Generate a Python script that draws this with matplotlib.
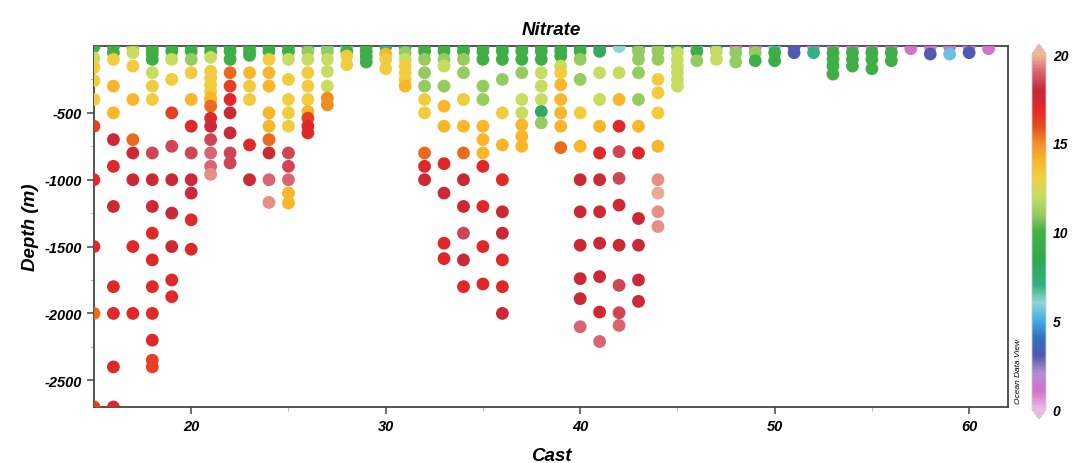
import numpy as np
import matplotlib
matplotlib.use("Agg")
import matplotlib.pyplot as plt
from matplotlib.colors import LinearSegmentedColormap, Normalize

plt.rcParams['font.family'] = ['Liberation Sans', 'DejaVu Sans']
plt.rcParams['axes.unicode_minus'] = False

# colour levels (nitrate)
G, LG, YG, Y, YO, O, DO, OR = 9.6, 11.0, 12.0, 13.2, 14.0, 15.0, 15.5, 16.2
R, C, PC, P, S, PE = 17.0, 17.8, 18.5, 19.0, 19.5, 19.8
T, LB, B, I, PK = 7.0, 5.5, 4.0, 3.0, 1.0

# (cast, depth, nitrate) per cast
cast_no = []
depth_m = []
nitrate = []

casts = {
    15: [(5, G), (90, YG), (160, Y), (260, Y), (400, Y), (600, OR), (1000, R), (1500, R), (2000, DO), (2700, OR)],
    16: [(5, G), (50, G), (100, Y), (300, YO), (500, YO), (700, C), (900, R), (1200, C), (1800, R), (2000, R), (2400, R), (2700, R)],
    17: [(5, LG), (50, YG), (150, Y), (400, YO), (700, DO), (800, C), (1000, C), (1500, R), (2000, R)],
    18: [(5, G), (30, G), (60, G), (100, G), (200, YG), (300, Y), (400, Y), (800, PC), (1000, C), (1200, C), (1400, R), (1600, R), (1800, R), (2000, R), (2200, R), (2350, OR), (2400, OR)],
    19: [(5, G), (40, G), (100, YG), (250, Y), (500, OR), (750, PC), (1000, C), (1250, C), (1500, C), (1750, R), (1875, R)],
    20: [(5, G), (40, G), (100, LG), (200, Y), (400, YO), (600, R), (800, PC), (1000, C), (1100, C), (1300, R), (1520, R)],
    21: [(5, G), (45, G), (85, YG), (190, Y), (240, Y), (290, Y), (340, Y), (390, YO), (410, YO), (450, DO), (540, R), (600, C), (700, PC), (800, P), (900, P), (960, S)],
    22: [(5, T), (40, G), (100, G), (200, DO), (300, OR), (400, R), (500, C), (650, C), (800, PC), (875, PC)],
    23: [(5, G), (40, G), (70, G), (200, YO), (300, Y), (400, Y), (740, R), (1000, C)],
    24: [(5, T), (40, G), (100, Y), (200, YO), (300, YO), (500, YO), (600, YO), (700, DO), (800, C), (1000, P), (1170, S)],
    25: [(5, T), (40, G), (100, YG), (250, Y), (400, Y), (500, Y), (600, Y), (800, PC), (900, PC), (1000, P), (1100, YO), (1175, YO)],
    26: [(5, T), (40, LG), (100, YG), (200, Y), (300, Y), (400, Y), (490, YO), (540, OR), (600, R), (650, R)],
    27: [(5, LB), (40, LG), (100, YG), (190, YG), (300, YG), (390, O), (440, O)],
    28: [(5, LB), (40, G), (75, Y), (140, Y)],
    29: [(5, G), (40, G), (80, G), (120, G)],
    30: [(5, T), (60, YO), (100, Y), (170, Y)],
    31: [(5, T), (50, LG), (100, YG), (150, Y), (200, Y), (250, Y), (300, YO)],
    32: [(5, G), (40, G), (100, LG), (200, LG), (300, LG), (400, Y), (500, Y), (800, DO), (900, R), (1000, C)],
    33: [(5, T), (40, G), (100, LG), (150, YG), (300, LG), (450, YO), (600, YO), (880, R), (1100, C), (1475, R), (1590, R)],
    34: [(5, T), (40, G), (100, LG), (200, LG), (400, Y), (600, YO), (800, DO), (1000, C), (1200, C), (1400, PC), (1600, C), (1800, R)],
    35: [(5, T), (40, G), (100, G), (300, LG), (400, LG), (600, YO), (700, YO), (800, YO), (900, R), (1200, R), (1500, R), (1780, R)],
    36: [(5, T), (40, G), (100, G), (250, LG), (500, Y), (740, YO), (1000, R), (1240, C), (1400, C), (1600, R), (1800, R), (2000, C)],
    37: [(5, G), (40, G), (100, G), (200, LG), (400, YG), (500, YG), (590, YO), (675, YO), (750, YO)],
    38: [(5, G), (40, G), (100, G), (200, YG), (300, YG), (400, YG), (490, 8.0), (575, LG)],
    39: [(5, T), (40, G), (75, G), (150, YG), (200, Y), (290, YO), (400, YO), (500, YO), (600, YO), (760, DO)],
    40: [(5, T), (40, G), (100, LG), (250, LG), (500, Y), (750, YO), (1000, C), (1240, C), (1490, C), (1740, C), (1890, C), (2100, P)],
    41: [(5, T), (40, 8.0), (200, YG), (400, YG), (600, YO), (800, R), (1000, C), (1240, C), (1475, C), (1725, C), (1990, C), (2210, P)],
    42: [(5, 6.0), (200, YG), (400, YO), (600, R), (790, PC), (990, PC), (1190, C), (1490, C), (1790, PC), (1995, PC), (2090, P)],
    43: [(5, T), (40, LG), (100, LG), (200, LG), (400, LG), (600, YO), (800, R), (1290, C), (1490, C), (1750, C), (1910, C)],
    44: [(5, LG), (40, LG), (100, LG), (250, Y), (350, Y), (500, Y), (750, YO), (1000, S), (1100, PE), (1240, S), (1350, S)],
    45: [(5, T), (50, YG), (100, YG), (150, YG), (200, YG), (250, YG), (300, YG)],
    46: [(5, LB), (40, G), (110, LG)],
    47: [(5, T), (40, YG), (100, YG)],
    48: [(5, PK), (50, LG), (120, LG)],
    49: [(5, PK), (50, LG), (110, G)],
    50: [(5, LB), (50, G), (110, G)],
    51: [(5, I), (50, I)],
    52: [(5, PK), (50, T)],
    53: [(5, PK), (50, G), (100, G), (150, G), (210, G)],
    54: [(5, PK), (50, G), (100, G), (150, G)],
    55: [(5, PK), (50, G), (100, G), (170, G)],
    56: [(5, PK), (50, G), (110, G)],
    57: [(20, PK)],
    58: [(5, PK), (60, I)],
    59: [(5, PK), (60, LB)],
    60: [(5, PK), (50, I)],
    61: [(20, PK)],
}
for c, pts in casts.items():
    for d, v in pts:
        cast_no.append(c)
        depth_m.append(-d)
        nitrate.append(v)

# ODV-like palette
odv = LinearSegmentedColormap.from_list("odv", [
    (0.00, "#ecb8e4"), (0.05, "#d070c8"), (0.10, "#b090d0"), (0.15, "#5058b0"),
    (0.20, "#3070c0"), (0.25, "#40b0e8"), (0.30, "#90d8d0"), (0.35, "#30b080"),
    (0.42, "#30a850"), (0.50, "#44b044"), (0.55, "#98cc60"), (0.60, "#c8dc60"),
    (0.65, "#f0d040"), (0.70, "#f8b828"), (0.75, "#f09020"), (0.80, "#e84820"),
    (0.85, "#e02828"), (0.90, "#c82838"), (0.95, "#d86070"), (1.00, "#f0b898")])
odv.set_over("#f0b898")
odv.set_under("#ecb8e4")
norm = Normalize(0, 20)

fig = plt.figure(figsize=(10.75, 4.64), dpi=100)
ax = fig.add_axes([0.0874, 0.1207, 0.8503, 0.778])
ax.scatter(cast_no, depth_m, c=nitrate, cmap=odv, norm=norm, s=85, edgecolors="none", zorder=3)
ax.set_xlim(15, 62)
ax.set_ylim(-2700, 0)
ax.set_xticks([20, 30, 40, 50, 60])
ax.set_xticks(np.arange(25, 62, 10), minor=True)
ax.set_yticks([-2500, -2000, -1500, -1000, -500])
ax.set_yticks(np.arange(-2250, 0, 500), minor=True)
for sp in ax.spines.values():
    sp.set_color("#444444")
    sp.set_linewidth(1.3)
ax.tick_params(which="major", length=5, width=1.1, color="#444444", direction="out")
ax.tick_params(which="minor", length=3, width=0.8, color="#bbbbbb", direction="out")
for lab in ax.get_xticklabels() + ax.get_yticklabels():
    lab.set_fontweight("bold")
    lab.set_fontstyle("italic")
    lab.set_fontsize(10.5)
ax.set_title("Nitrate", fontsize=13.5, fontweight="bold", fontstyle="italic", pad=9)
ax.set_xlabel("Cast", fontsize=13.5, fontweight="bold", fontstyle="italic", labelpad=10)
ax.set_ylabel("Depth (m)", fontsize=13.5, fontweight="bold", fontstyle="italic", labelpad=4)

cax = fig.add_axes([0.960, 0.0948, 0.013, 0.808])
sm = plt.cm.ScalarMappable(norm=norm, cmap=odv)
cb = fig.colorbar(sm, cax=cax, extend="both", extendfrac=0.028, ticks=[0, 5, 10, 15, 20])
cb.outline.set_edgecolor("#cccccc")
cb.outline.set_linewidth(0.6)
cax.tick_params(length=0, pad=5)
for lab in cax.get_yticklabels():
    lab.set_fontweight("bold")
    lab.set_fontstyle("italic")
    lab.set_fontsize(10)
fig.text(0.9475, 0.20, "Ocean Data View", rotation=90, fontsize=6, fontstyle="italic",
         ha="center", va="center")

fig.savefig("out.png", dpi=100)
